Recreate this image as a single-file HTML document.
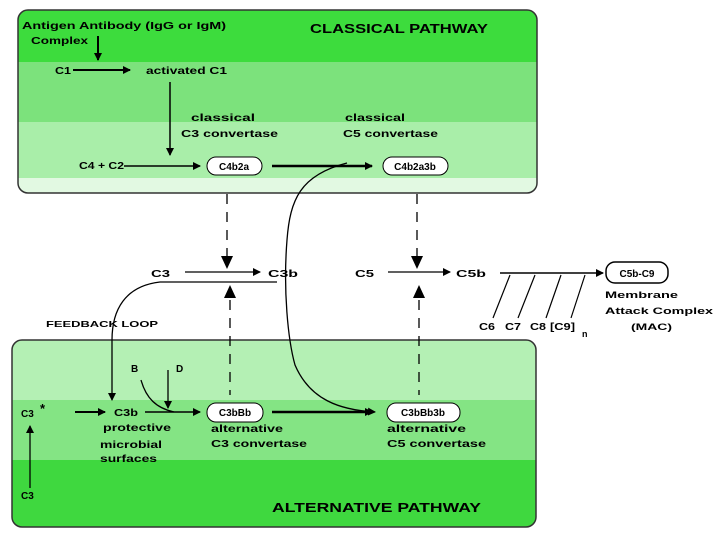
<!DOCTYPE html>
<html><head><style>
body{margin:0;background:#fff;}
svg{display:block;font-family:"Liberation Sans",Arial,sans-serif;font-weight:bold;}
</style></head><body>
<svg width="720" height="540" viewBox="0 0 720 540" xmlns="http://www.w3.org/2000/svg">
<defs>
<marker id="a" markerWidth="8" markerHeight="8" refX="7" refY="4" orient="auto" markerUnits="userSpaceOnUse"><path d="M0,0 L8,4 L0,8 z" fill="#000"/></marker>
<clipPath id="ct"><rect x="18" y="10" width="519" height="183" rx="10"/></clipPath>
<clipPath id="cb"><rect x="12" y="340" width="524" height="187" rx="10"/></clipPath>
</defs>
<g clip-path="url(#ct)">
<rect x="18" y="10" width="519" height="52" fill="#3ddc3d"/>
<rect x="18" y="62" width="519" height="60" fill="#7ce27c"/>
<rect x="18" y="122" width="519" height="56" fill="#a9eea9"/>
<rect x="18" y="178" width="519" height="15" fill="#e2f9e2"/>
</g>
<rect x="18" y="10" width="519" height="183" rx="10" fill="none" stroke="#333" stroke-width="1.5"/>
<g clip-path="url(#cb)">
<rect x="12" y="340" width="524" height="60" fill="#b4f0b4"/>
<rect x="12" y="400" width="524" height="60" fill="#84e484"/>
<rect x="12" y="460" width="524" height="67" fill="#3fd83f"/>
</g>
<rect x="12" y="340" width="524" height="187" rx="10" fill="none" stroke="#333" stroke-width="1.5"/>

<g font-size="10" lengthAdjust="spacingAndGlyphs">
<text x="22" y="29" textLength="204" lengthAdjust="spacingAndGlyphs">Antigen Antibody  (IgG or IgM)</text>
<text x="31" y="44" textLength="57" lengthAdjust="spacingAndGlyphs">Complex</text>
<text x="310" y="33" font-size="13" textLength="178" lengthAdjust="spacingAndGlyphs">CLASSICAL PATHWAY</text>
<text x="55" y="74" textLength="16" lengthAdjust="spacingAndGlyphs">C1</text>
<text x="146" y="74" textLength="81" lengthAdjust="spacingAndGlyphs">activated C1</text>
<text x="191" y="121" textLength="64" lengthAdjust="spacingAndGlyphs">classical</text>
<text x="181" y="137" textLength="97" lengthAdjust="spacingAndGlyphs">C3 convertase</text>
<text x="345" y="121" textLength="60" lengthAdjust="spacingAndGlyphs">classical</text>
<text x="343" y="137" textLength="95" lengthAdjust="spacingAndGlyphs">C5 convertase</text>
<text x="79" y="169" textLength="45" lengthAdjust="spacingAndGlyphs">C4 + C2</text>
</g>
<line x1="98" y1="36" x2="98" y2="60" stroke="#000" stroke-width="2" marker-end="url(#a)"/>
<line x1="73" y1="70" x2="130" y2="70" stroke="#000" stroke-width="2" marker-end="url(#a)"/>
<line x1="170" y1="82" x2="170" y2="155" stroke="#000" stroke-width="1.5" marker-end="url(#a)"/>
<line x1="124" y1="166" x2="200" y2="166" stroke="#000" stroke-width="1.5" marker-end="url(#a)"/>
<rect x="207" y="157" width="55" height="18" rx="9" fill="#fff" stroke="#000"/>
<text x="234" y="170" font-size="10" text-anchor="middle">C4b2a</text>
<line x1="272" y1="166" x2="372" y2="166" stroke="#000" stroke-width="2.5" marker-end="url(#a)"/>
<rect x="383" y="157" width="65" height="18" rx="9" fill="#fff" stroke="#000"/>
<text x="415" y="170" font-size="10" text-anchor="middle">C4b2a3b</text>

<g stroke="#000" stroke-width="1.3" stroke-dasharray="10,8">
<line x1="227" y1="194" x2="227" y2="256"/>
<line x1="417" y1="194" x2="417" y2="256"/>
<line x1="230" y1="300" x2="230" y2="395"/>
<line x1="419" y1="300" x2="419" y2="395"/>
</g>
<path d="M221,256 L233,256 L227,269 z" fill="#000"/>
<path d="M411,256 L423,256 L417,269 z" fill="#000"/>
<path d="M224,298 L236,298 L230,285 z" fill="#000"/>
<path d="M413,298 L425,298 L419,285 z" fill="#000"/>

<g font-size="10">
<text x="151" y="277" textLength="19" lengthAdjust="spacingAndGlyphs">C3</text>
<text x="268" y="277" textLength="30" lengthAdjust="spacingAndGlyphs">C3b</text>
<text x="355" y="277" textLength="19" lengthAdjust="spacingAndGlyphs">C5</text>
<text x="456" y="277" textLength="30" lengthAdjust="spacingAndGlyphs">C5b</text>
<text x="46" y="327" font-size="8.5" textLength="112" lengthAdjust="spacingAndGlyphs">FEEDBACK   LOOP</text>
<text x="605" y="298" font-size="9.5" textLength="73" lengthAdjust="spacingAndGlyphs">Membrane</text>
<text x="605" y="314" font-size="9.5" textLength="108" lengthAdjust="spacingAndGlyphs">Attack Complex</text>
<text x="631" y="330" font-size="9.5" textLength="41" lengthAdjust="spacingAndGlyphs">(MAC)</text>
<text x="479" y="330" textLength="16" lengthAdjust="spacingAndGlyphs">C6</text>
<text x="505" y="330" textLength="16" lengthAdjust="spacingAndGlyphs">C7</text>
<text x="530" y="330" textLength="16" lengthAdjust="spacingAndGlyphs">C8</text>
<text x="550" y="330" textLength="25" lengthAdjust="spacingAndGlyphs">[C9]</text>
<text x="582" y="337" font-size="9">n</text>
</g>
<line x1="185" y1="272" x2="260" y2="272" stroke="#000" stroke-width="1.3" marker-end="url(#a)"/>
<line x1="388" y1="272" x2="450" y2="272" stroke="#000" stroke-width="1.3" marker-end="url(#a)"/>
<line x1="500" y1="273" x2="603" y2="273" stroke="#000" stroke-width="1.5" marker-end="url(#a)"/>
<g stroke="#000" stroke-width="1.2">
<line x1="510" y1="275" x2="493" y2="318"/>
<line x1="535" y1="275" x2="518" y2="318"/>
<line x1="561" y1="275" x2="546" y2="318"/>
<line x1="585" y1="275" x2="571" y2="318"/>
</g>
<rect x="606" y="262" width="62" height="21" rx="9" fill="#fff" stroke="#000" stroke-width="1.5"/>
<text x="637" y="277" font-size="10" text-anchor="middle">C5b-C9</text>

<path d="M277,282 L160,282 C125,286 112,310 112,340 L112,400" fill="none" stroke="#000" stroke-width="1.3" marker-end="url(#a)"/>
<path d="M347,163 C300,175 290,200 287,240 C283,290 288,340 295,365 C310,400 340,410 375,412" fill="none" stroke="#000" stroke-width="1.3" marker-end="url(#a)"/>

<g font-size="10">
<text x="21" y="417">C3</text>
<text x="40" y="413" font-size="13">*</text>
<text x="114" y="416" textLength="24" lengthAdjust="spacingAndGlyphs">C3b</text>
<text x="103" y="431" textLength="68" lengthAdjust="spacingAndGlyphs">protective</text>
<text x="100" y="448" textLength="62" lengthAdjust="spacingAndGlyphs">microbial</text>
<text x="100" y="462" textLength="57" lengthAdjust="spacingAndGlyphs">surfaces</text>
<text x="131" y="372">B</text>
<text x="176" y="372">D</text>
<text x="211" y="432" textLength="72" lengthAdjust="spacingAndGlyphs">alternative</text>
<text x="211" y="447" textLength="96" lengthAdjust="spacingAndGlyphs">C3 convertase</text>
<text x="387" y="432" textLength="79" lengthAdjust="spacingAndGlyphs">alternative</text>
<text x="387" y="447" textLength="99" lengthAdjust="spacingAndGlyphs">C5 convertase</text>
<text x="21" y="499">C3</text>
<text x="272" y="512" font-size="13" textLength="209" lengthAdjust="spacingAndGlyphs">ALTERNATIVE PATHWAY</text>
</g>
<line x1="75" y1="412" x2="105" y2="412" stroke="#000" stroke-width="2" marker-end="url(#a)"/>
<line x1="145" y1="412" x2="200" y2="412" stroke="#000" stroke-width="1.5" marker-end="url(#a)"/>
<line x1="168" y1="370" x2="168" y2="408" stroke="#000" stroke-width="1.3" marker-end="url(#a)"/>
<path d="M141,380 C146,398 156,408 174,412" fill="none" stroke="#000" stroke-width="1.3"/>
<line x1="30" y1="488" x2="30" y2="426" stroke="#000" stroke-width="1.3" marker-end="url(#a)"/>
<rect x="207" y="403" width="56" height="19" rx="9" fill="#fff" stroke="#000"/>
<text x="235" y="416" font-size="10" text-anchor="middle">C3bBb</text>
<line x1="272" y1="412" x2="372" y2="412" stroke="#000" stroke-width="2.5" marker-end="url(#a)"/>
<rect x="387" y="403" width="73" height="19" rx="9" fill="#fff" stroke="#000"/>
<text x="423" y="416" font-size="10" text-anchor="middle">C3bBb3b</text>
</svg>
</body></html>
